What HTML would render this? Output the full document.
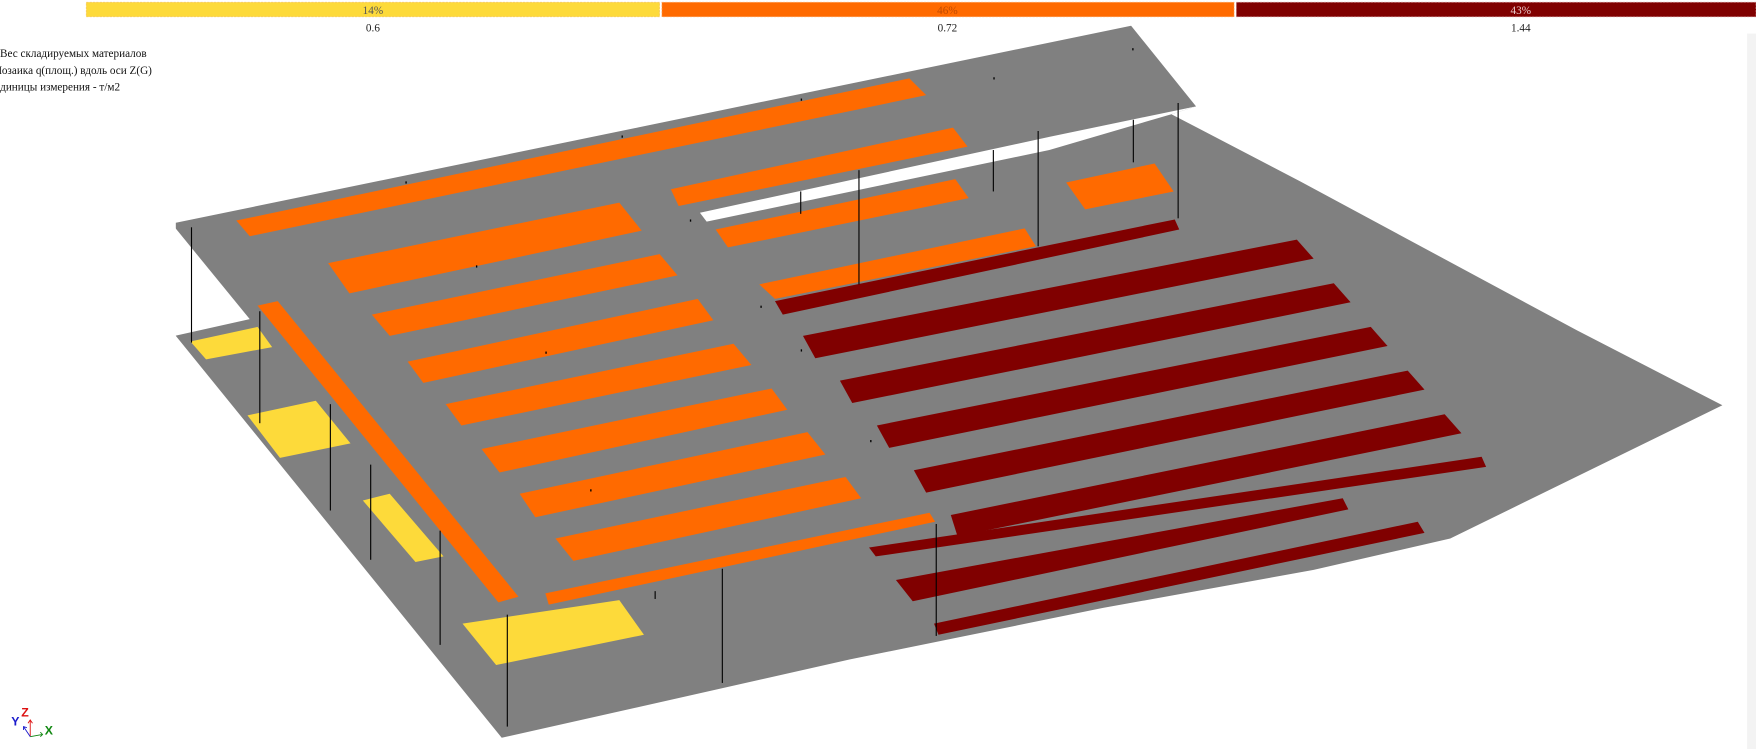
<!DOCTYPE html>
<html><head><meta charset="utf-8"><style>
html,body{margin:0;padding:0;background:#fff;}
svg{display:block;}
</style></head><body>
<svg width="1756" height="749" viewBox="0 0 1568 669" preserveAspectRatio="none" xmlns="http://www.w3.org/2000/svg">
<rect width="1568" height="669" fill="#fff"/>
<rect x="1560" y="30" width="8" height="639" fill="#f3f3f3"/>
<!-- legend -->
<rect x="77" y="2" width="512" height="13" fill="#fdda3a" stroke="#f5c870" stroke-width="0.6" stroke-dasharray="2 1"/>
<rect x="591" y="2" width="511" height="13" fill="#ff6a00" stroke="#ffb070" stroke-width="0.6" stroke-dasharray="2 1"/>
<rect x="1104" y="2" width="464" height="13" fill="#800000" stroke="#d09090" stroke-width="0.6" stroke-dasharray="2 1"/>
<g font-family="Liberation Serif, serif" font-size="10" text-anchor="middle">
<text x="333" y="12.5" fill="#555">14%</text>
<text x="846" y="12.5" fill="#c04a00">46%</text>
<text x="1358" y="12.5" fill="#e8c8c8">43%</text>
<text x="333" y="28" fill="#222">0.6</text>
<text x="846" y="28" fill="#222">0.72</text>
<text x="1358" y="28" fill="#222">1.44</text>
</g>
<g font-family="Liberation Serif, serif" font-size="10" fill="#111">
<text x="0" y="51">Вес складируемых материалов</text>
<text x="-7" y="66">Мозаика q(площ.) вдоль оси  Z(G)</text>
<text x="-6" y="81">Единицы измерения - т/м2</text>
</g>
<!-- gray slabs -->
<polygon fill="#808080" points="157,199 1010,23 1068,95 1046,102 1161,162 1408,295 1538,362 1295,481 1173,509 985,543 759,589 448,659 157,300"/>
<polygon fill="#fff" points="156,203 223,285 156,300"/>
<polygon fill="#fff" points="625,190 938,122 1068,95 1046,102 937,134 631,198"/>
<!-- orange -->
<g fill="#ff6a00">
<polygon points="211,197 812,70 827,85 223,211"/>
<polygon points="293,235 553,181 573,206 312,262"/>
<polygon points="332,281 589,227 605,246 348,300"/>
<polygon points="364,323 623,267 637,286 378,342"/>
<polygon points="398,361 655,307 671,326 412,380"/>
<polygon points="430,401 689,347 703,366 446,422"/>
<polygon points="464,441 721,386 737,406 478,462"/>
<polygon points="496,481 755,426 769,445 512,501"/>
<polygon points="487,530 830,458 835,466 490,540"/>
<polygon points="230,273 248,269 463,533 445,538"/>
<polygon points="599,169 851,114 864,131 606,184"/>
<polygon points="639,205 853,160 865,177 650,221"/>
<polygon points="678,254 915,204 925,220 692,267"/>
<polygon points="952,163 1031,146 1048,171 969,187"/>
</g>
<!-- yellow -->
<g fill="#fdda3a">
<polygon points="170,305 230,292 243,310 184,321"/>
<polygon points="221,371 282,358 313,396 250,409"/>
<polygon points="324,447 348,441 396,497 371,502"/>
<polygon points="413,557 553,536 575,567 443,594"/>
</g>
<!-- dark red -->
<g fill="#800000">
<polygon points="692,269 1049,196 1053,205 699,281"/>
<polygon points="717,300 1158,214 1173,231 728,320"/>
<polygon points="750,340 1191,253 1206,270 761,360"/>
<polygon points="783,380 1224,292 1239,309 794,400"/>
<polygon points="816,420 1257,331 1272,348 827,440"/>
<polygon points="849,460 1290,370 1305,387 855,479"/>
<polygon points="776,489 1323,408 1327,417 782,497"/>
<polygon points="800,518 1199,445 1204,455 815,537"/>
<polygon points="834,557 1266,466 1272,476 838,567"/>
</g>
<!-- columns -->
<g stroke="#000" stroke-width="1">
<line x1="171" y1="203" x2="171" y2="306"/>
<line x1="232" y1="278" x2="232" y2="378"/>
<line x1="295" y1="361" x2="295" y2="456"/>
<line x1="331" y1="415" x2="331" y2="500"/>
<line x1="393" y1="474" x2="393" y2="576"/>
<line x1="453" y1="549" x2="453" y2="649"/>
<line x1="585" y1="528" x2="585" y2="535"/>
<line x1="645" y1="508" x2="645" y2="610"/>
<line x1="836" y1="468" x2="836" y2="568"/>
<line x1="767" y1="152" x2="767" y2="254"/>
<line x1="715" y1="171" x2="715" y2="191"/>
<line x1="887" y1="134" x2="887" y2="171"/>
<line x1="927" y1="117" x2="927" y2="220"/>
<line x1="1012" y1="107" x2="1012" y2="145"/>
<line x1="1052" y1="92" x2="1052" y2="195"/>
</g>
<g fill="#000">
<rect x="362" y="162" width="1.2" height="2"/>
<rect x="555" y="121" width="1.2" height="2"/>
<rect x="715" y="88" width="1.2" height="2"/>
<rect x="887" y="69" width="1.2" height="2"/>
<rect x="1011" y="43" width="1.2" height="2"/>
<rect x="425" y="237" width="1.2" height="2"/>
<rect x="487" y="314" width="1.2" height="2"/>
<rect x="616" y="196" width="1.2" height="2"/>
<rect x="679" y="273" width="1.2" height="2"/>
<rect x="715" y="312" width="1.2" height="2"/>
<rect x="777" y="393" width="1.2" height="2"/>
<rect x="527" y="437" width="1.2" height="2"/>
</g>
<!-- axis icon -->
<g font-family="Liberation Sans, sans-serif" font-weight="bold" font-size="11">
<text x="10" y="648" fill="#1a1acc">Y</text>
<text x="19" y="640" fill="#dd1111">Z</text>
<text x="40" y="656" fill="#118811">X</text>
</g>
<g stroke-width="0.8" fill="none">
<path d="M27,658 L27,643 M25,646 L27,643 L29,646" stroke="#dd1111"/>
<path d="M27,658 L38,656 M36,654 L38,656 L36,658" stroke="#118811"/>
<path d="M27,658 L21,649 M21,652 L21,649 L24,650" stroke="#1a1acc"/>
</g>
</svg>
</body></html>
